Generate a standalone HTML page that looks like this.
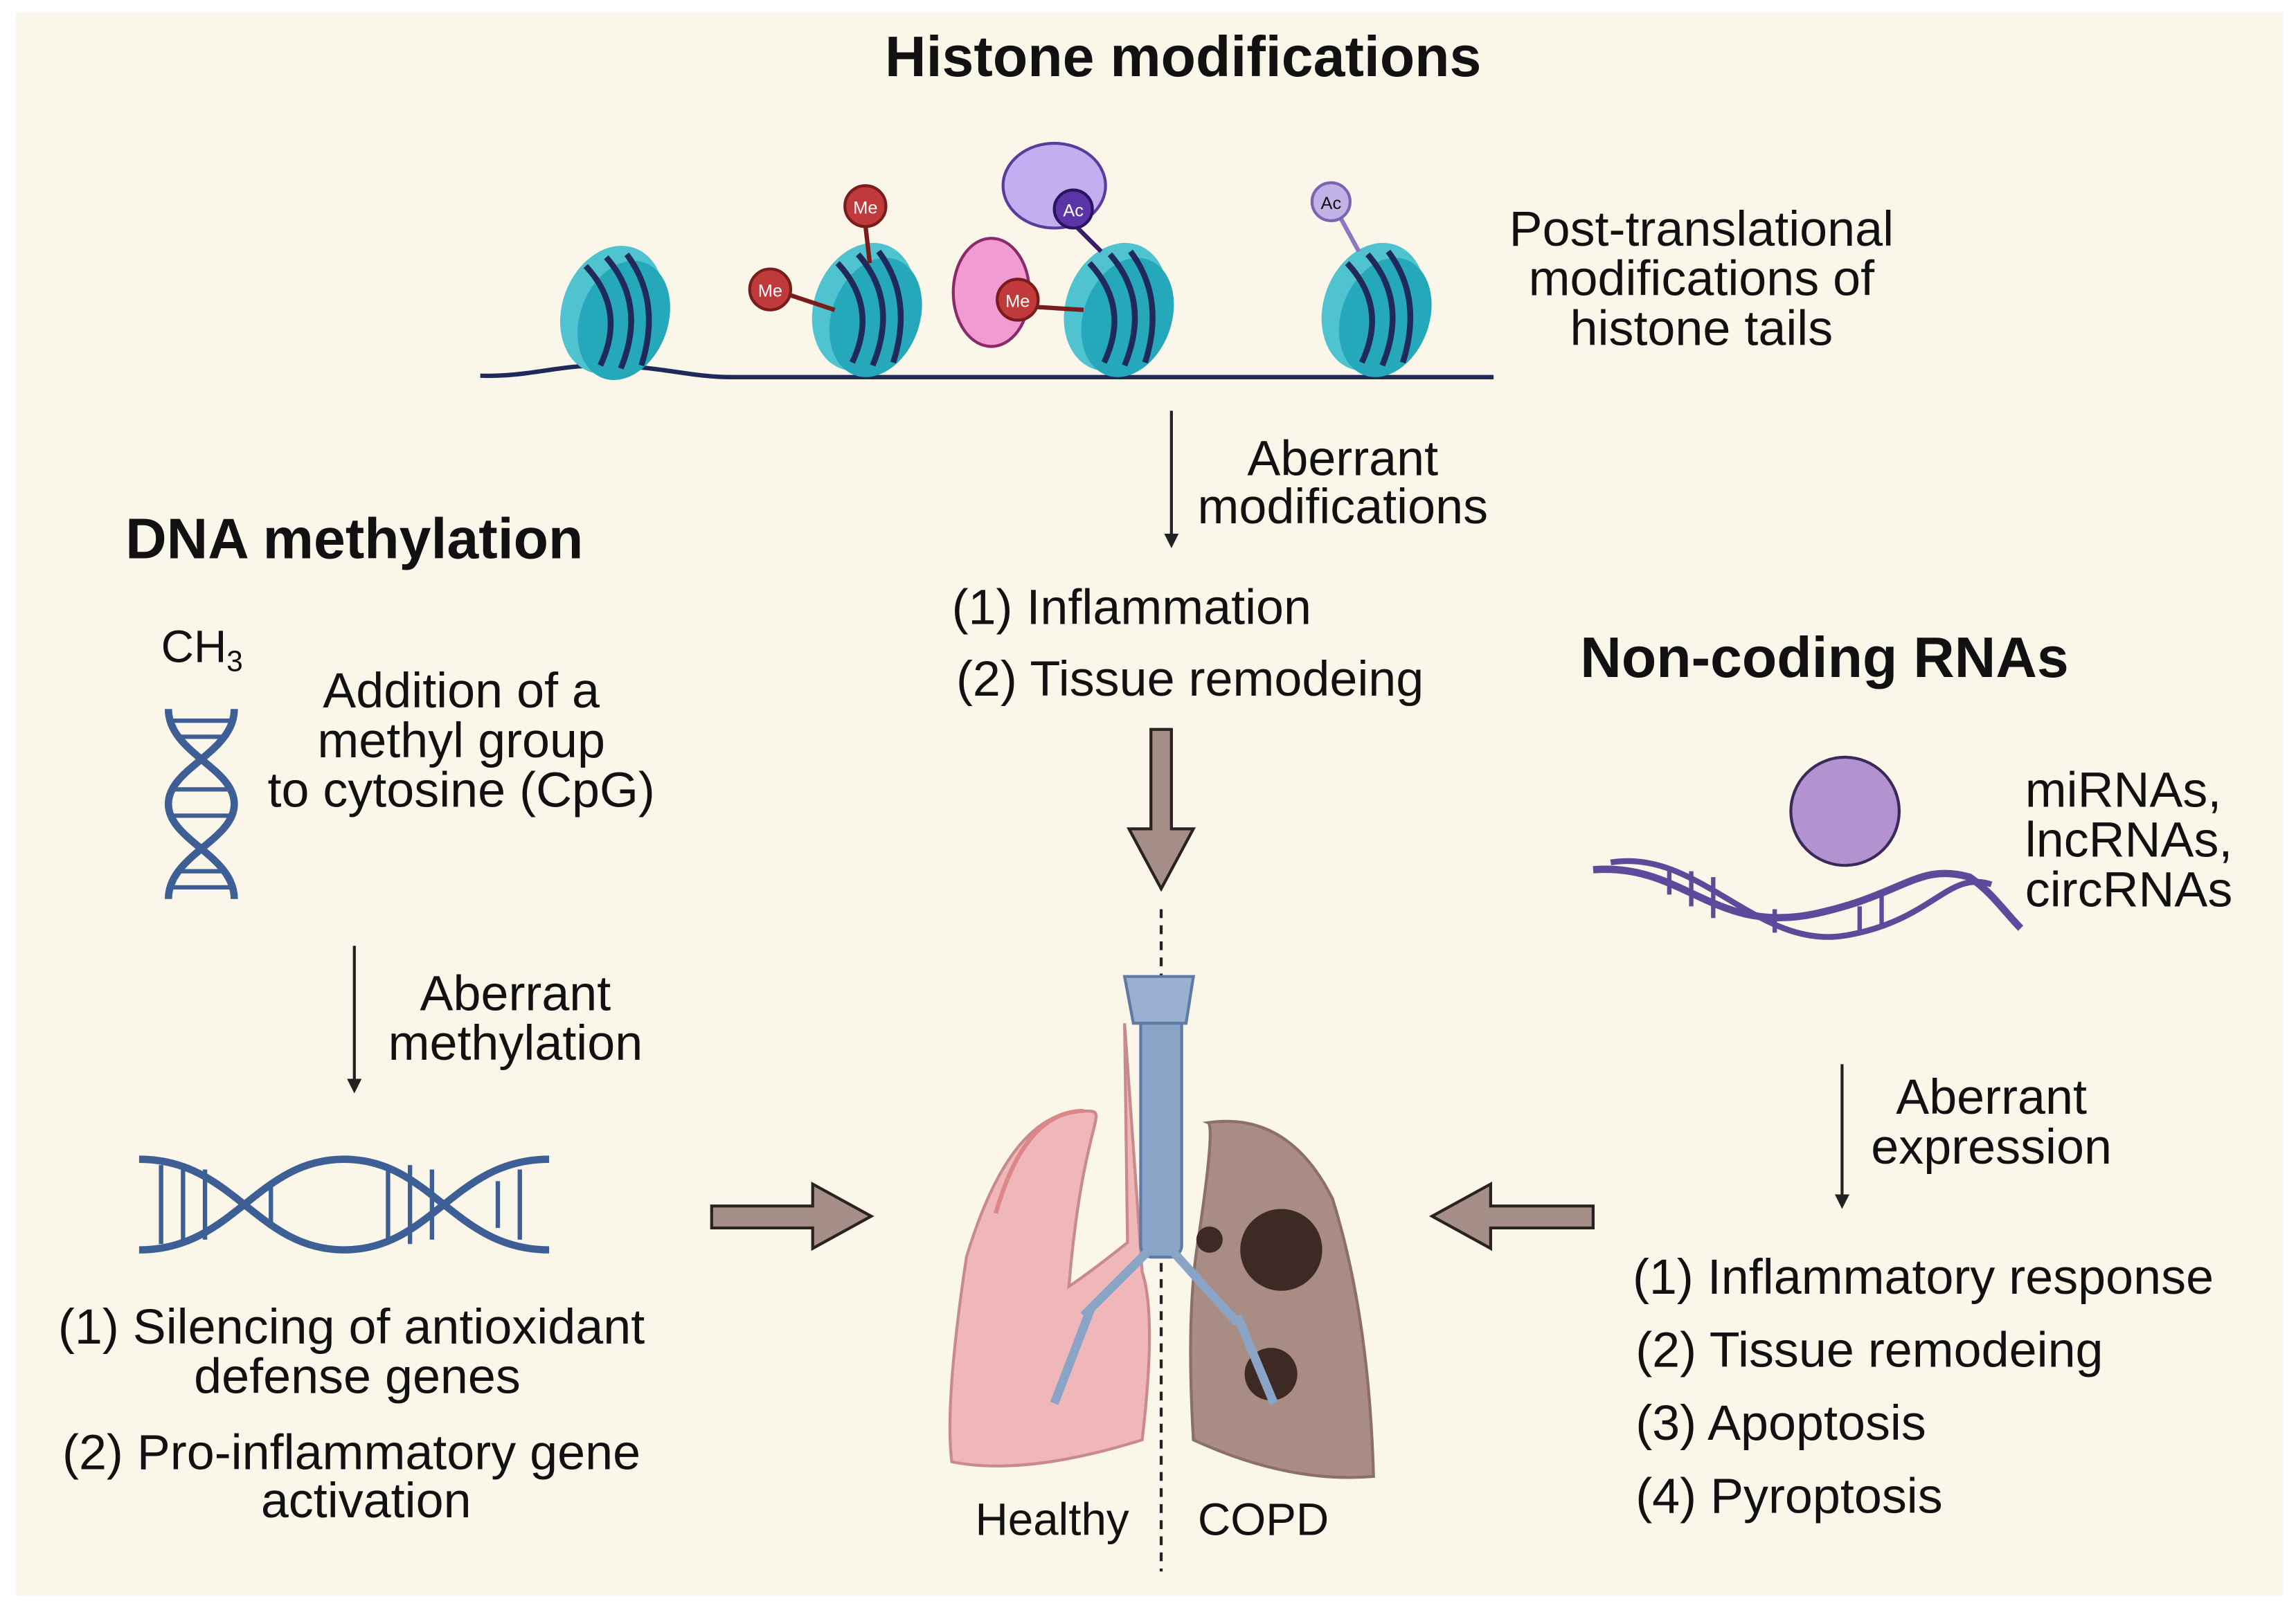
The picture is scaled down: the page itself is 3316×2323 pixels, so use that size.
<!DOCTYPE html>
<html><head><meta charset="utf-8"><style>html,body{margin:0;padding:0;background:#fff}svg{display:block}text{font-family:"Liberation Sans",Arial,sans-serif;fill:#111}</style></head><body>
<svg width="3316" height="2323" viewBox="0 0 1568 1100" preserveAspectRatio="none">
<defs>
<marker id="ah" markerWidth="10" markerHeight="10" refX="5" refY="5" orient="auto" markerUnits="userSpaceOnUse"><path d="M0,0 L10,5 L0,10 z" fill="#222"/></marker>
<g id="nuc"><ellipse cx="0" cy="0" rx="34" ry="45" fill="#4fc3d0" transform="rotate(20)"/><ellipse cx="10" cy="4" rx="30" ry="42" fill="#26a8bb" transform="rotate(20)"/><path d="M-18,-30 Q10,0 -8,38 M-4,-36 Q24,-4 6,40 M10,-38 Q34,-6 20,38" stroke="#1f2a5a" stroke-width="4" fill="none"/></g>
</defs>
<rect x="0" y="0" width="1568" height="1100" fill="#fff"/>
<rect x="11" y="8.5" width="1548" height="1083" fill="#fbf6ea"/>
<text x="808" y="52" font-size="39" font-weight="bold" text-anchor="middle">Histone modifications</text>
<path d="M328,257 C360,258 380,250 410,250 C450,250 470,258 500,258 L1020,258" stroke="#1f2a5a" stroke-width="3" fill="none"/>
<use href="#nuc" x="418" y="212"/>
<use href="#nuc" x="590" y="210"/>
<use href="#nuc" x="762" y="210"/>
<use href="#nuc" x="938" y="210"/>
<line x1="540" y1="202" x2="570" y2="212" stroke="#7a1c1c" stroke-width="3"/><circle cx="526" cy="198" r="14" fill="#c0393b" stroke="#7a1c1c" stroke-width="2"/><text x="526" y="203" font-size="12" text-anchor="middle" style="fill:#fff">Me</text>
<line x1="591" y1="154" x2="594" y2="180" stroke="#7a1c1c" stroke-width="3"/><circle cx="591" cy="141" r="14" fill="#c0393b" stroke="#7a1c1c" stroke-width="2"/><text x="591" y="146" font-size="12" text-anchor="middle" style="fill:#fff">Me</text>
<ellipse cx="677" cy="200" rx="26" ry="37" fill="#f29ad2" stroke="#8a2a6a" stroke-width="2"/>
<line x1="708" y1="210" x2="740" y2="212" stroke="#7a1c1c" stroke-width="3"/><circle cx="695" cy="205" r="14" fill="#c0393b" stroke="#7a1c1c" stroke-width="2"/><text x="695" y="210" font-size="12" text-anchor="middle" style="fill:#fff">Me</text>
<ellipse cx="720" cy="127" rx="35" ry="29" fill="#c2aef0" stroke="#5b3c9c" stroke-width="2"/>
<line x1="735" y1="155" x2="752" y2="172" stroke="#3b1d6a" stroke-width="3"/><circle cx="733" cy="143" r="13" fill="#5b35a6" stroke="#2c1360" stroke-width="2"/><text x="733" y="148" font-size="12" text-anchor="middle" style="fill:#fff">Ac</text>
<line x1="916" y1="150" x2="928" y2="172" stroke="#8e78c4" stroke-width="3"/><circle cx="909" cy="138" r="13" fill="#c2b3e6" stroke="#7a66b0" stroke-width="2"/><text x="909" y="143" font-size="12" text-anchor="middle">Ac</text>
<text font-size="34" text-anchor="middle"><tspan x="1162" y="168">Post-translational</tspan><tspan x="1162" y="202">modifications of</tspan><tspan x="1162" y="236">histone tails</tspan></text>
<line x1="800" y1="281" x2="800" y2="370" stroke="#222" stroke-width="2" marker-end="url(#ah)"/>
<text font-size="34" text-anchor="middle"><tspan x="917" y="325">Aberrant</tspan><tspan x="917" y="358">modifications</tspan></text>
<text x="650" y="427" font-size="34">(1) Inflammation</text>
<text x="653" y="476" font-size="34">(2) Tissue remodeing</text>
<path d="M786,499 L800,499 L800,567 L815,567 L793,608 L771,567 L786,567 z" fill="#a48e87" stroke="#2a2220" stroke-width="2"/>
<line x1="793" y1="622" x2="793" y2="1075" stroke="#222" stroke-width="2" stroke-dasharray="6,5"/>
<text x="242" y="382" font-size="39" font-weight="bold" text-anchor="middle">DNA methylation</text>
<text x="110" y="453" font-size="31">CH<tspan font-size="20" dy="6">3</tspan></text>
<path d="M115,485 C115,515 160,525 160,550 C160,575 115,585 115,615 M160,485 C160,515 115,525 115,550 C115,575 160,585 160,615" stroke="#3d5f95" stroke-width="5" fill="none"/>
<g stroke="#3d5f95" stroke-width="3"><line x1="117" y1="493" x2="158" y2="493"/><line x1="121" y1="504" x2="154" y2="504"/><line x1="117" y1="540" x2="158" y2="540"/><line x1="117" y1="558" x2="158" y2="558"/><line x1="121" y1="596" x2="154" y2="596"/><line x1="117" y1="607" x2="158" y2="607"/></g>
<text font-size="34" text-anchor="middle"><tspan x="315" y="484">Addition of a</tspan><tspan x="315" y="518">methyl group</tspan><tspan x="315" y="552">to cytosine (CpG)</tspan></text>
<line x1="242" y1="647" x2="242" y2="743" stroke="#222" stroke-width="2" marker-end="url(#ah)"/>
<text font-size="34" text-anchor="middle"><tspan x="352" y="691">Aberrant</tspan><tspan x="352" y="725">methylation</tspan></text>
<path d="M95,793 C160,793 175,855 235,855 C295,855 310,793 375,793 M95,855 C160,855 175,793 235,793 C295,793 310,855 375,855" stroke="#3d5f95" stroke-width="5" fill="none"/>
<g stroke="#3d5f95" stroke-width="3"><line x1="110" y1="797" x2="110" y2="851"/><line x1="125" y1="798" x2="125" y2="850"/><line x1="140" y1="800" x2="140" y2="848"/><line x1="185" y1="808" x2="185" y2="840"/><line x1="265" y1="800" x2="265" y2="848"/><line x1="280" y1="797" x2="280" y2="851"/><line x1="295" y1="800" x2="295" y2="848"/><line x1="340" y1="808" x2="340" y2="840"/><line x1="355" y1="800" x2="355" y2="848"/></g>
<text font-size="34" text-anchor="middle"><tspan x="240" y="919">(1) Silencing of antioxidant</tspan><tspan x="244" y="953">defense genes</tspan><tspan x="240" y="1005">(2) Pro-inflammatory gene</tspan><tspan x="250" y="1038">activation</tspan></text>
<path d="M486,825 L555,825 L555,810 L595,832 L555,854 L555,840 L486,840 z" fill="#a48e87" stroke="#2a2220" stroke-width="2"/>
<path d="M1088,825 L1018,825 L1018,810 L978,832 L1018,854 L1018,840 L1088,840 z" fill="#a48e87" stroke="#2a2220" stroke-width="2"/>
<path d="M768,700 L770,850 Q745,870 730,880 C740,760 760,760 740,760 Q690,760 660,860 Q645,960 650,1000 Q700,1010 780,985 Q790,900 780,870 z" fill="#f0b7ba" stroke="#c98a8e" stroke-width="2"/>
<path d="M740,760 Q700,760 680,830" stroke="#d88" stroke-width="3" fill="none"/>
<path d="M818,850 Q830,770 825,768 Q880,760 910,820 Q935,900 938,1010 Q880,1015 815,985 Q810,900 818,850 z" fill="#a98d84" stroke="#8c6f66" stroke-width="2"/>
<circle cx="875" cy="855" r="28" fill="#3e2a24"/><circle cx="868" cy="940" r="18" fill="#3e2a24"/><circle cx="826" cy="848" r="9" fill="#3e2a24"/>
<rect x="779" y="690" width="28" height="170" rx="8" fill="#8aa4c8" stroke="#5e7aa5" stroke-width="2"/>
<path d="M768,668 L815,668 L810,700 L774,700 z" fill="#9ab0d0" stroke="#5e7aa5" stroke-width="2"/>
<path d="M785,855 L740,900 M800,855 L845,905 M745,895 L720,960 M845,900 L870,960" stroke="#8aa4c8" stroke-width="6" fill="none"/>
<text x="666" y="1050" font-size="31">Healthy</text>
<text x="818" y="1050" font-size="31">COPD</text>
<text x="1246" y="463" font-size="39" font-weight="bold" text-anchor="middle">Non-coding RNAs</text>
<circle cx="1260" cy="555" r="37" fill="#b393cf" stroke="#3a2a5a" stroke-width="2"/>
<path d="M1088,595 C1150,590 1170,640 1240,625 C1300,612 1310,590 1345,600 C1360,610 1370,625 1380,635" stroke="#5d4a9a" stroke-width="5" fill="none"/>
<path d="M1100,590 C1160,580 1200,650 1260,640 C1320,630 1330,595 1360,605" stroke="#5d4a9a" stroke-width="4" fill="none"/>
<g stroke="#5d4a9a" stroke-width="3"><line x1="1140" y1="595" x2="1140" y2="612"/><line x1="1155" y1="596" x2="1155" y2="620"/><line x1="1170" y1="600" x2="1170" y2="628"/><line x1="1212" y1="622" x2="1212" y2="638"/><line x1="1270" y1="620" x2="1270" y2="638"/><line x1="1285" y1="612" x2="1285" y2="634"/></g>
<text font-size="34"><tspan x="1383" y="552">miRNAs,</tspan><tspan x="1383" y="586">lncRNAs,</tspan><tspan x="1383" y="620">circRNAs</tspan></text>
<line x1="1258" y1="728" x2="1258" y2="822" stroke="#222" stroke-width="2" marker-end="url(#ah)"/>
<text font-size="34" text-anchor="middle"><tspan x="1360" y="762">Aberrant</tspan><tspan x="1360" y="796">expression</tspan></text>
<text font-size="34"><tspan x="1115" y="885">(1) Inflammatory response</tspan><tspan x="1117" y="935">(2) Tissue remodeing</tspan><tspan x="1117" y="985">(3) Apoptosis</tspan><tspan x="1117" y="1035">(4) Pyroptosis</tspan></text>
</svg>
</body></html>
